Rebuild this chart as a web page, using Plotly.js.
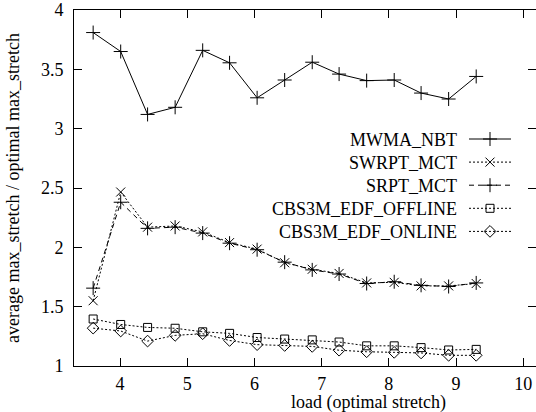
<!DOCTYPE html>
<html>
<head>
<meta charset="utf-8">
<script src="https://cdn.plot.ly/plotly-3.0.1.min.js"></script>
<style>html,body{margin:0;padding:0;background:#fff;}#chart{width:536px;height:412px;}</style>
</head>
<body>
<div id="chart"></div>
<script>
// ---- data ----
const load = [3.60, 4.01, 4.41, 4.82, 5.23, 5.63, 6.04, 6.45, 6.86, 7.26, 7.67, 8.08, 8.48, 8.89, 9.30];
const mwmaNbt = [3.81, 3.65, 3.12, 3.18, 3.66, 3.555, 3.26, 3.41, 3.56, 3.46, 3.405, 3.41, 3.30, 3.25, 3.44];
const swrptMct = [1.55, 2.466, 2.17, 2.18, 2.13, 2.04, 1.985, 1.87, 1.815, 1.78, 1.70, 1.705, 1.675, 1.675, 1.695];
const srptMct = [1.656, 2.38, 2.16, 2.17, 2.12, 2.035, 1.98, 1.875, 1.81, 1.775, 1.695, 1.71, 1.68, 1.67, 1.70];
const edfOffline = [1.396, 1.35, 1.325, 1.318, 1.288, 1.275, 1.24, 1.227, 1.22, 1.202, 1.17, 1.17, 1.155, 1.135, 1.14];
const edfOnline = [1.319, 1.295, 1.21, 1.258, 1.272, 1.215, 1.18, 1.173, 1.165, 1.133, 1.12, 1.115, 1.11, 1.09, 1.09];
const seriesNames = ["MWMA_NBT", "SWRPT_MCT", "SRPT_MCT", "CBS3M_EDF_OFFLINE", "CBS3M_EDF_ONLINE"];
const xTicks = [4, 5, 6, 7, 8, 9, 10];
const yTicks = [1, 1.5, 2, 2.5, 3, 3.5, 4];
const xTitle = "load (optimal stretch)";
const yTitle = "average max_stretch / optimal max_stretch";

// ---- styles ----
const FONT = "'Liberation Serif', 'Times New Roman', Times, serif";
const styles = [
  {dash: "solid", symbol: "cross-thin-open", size: 10},
  {dash: "2px,2px", symbol: "x-thin-open", size: 9},
  {dash: "5px,4px", symbol: "cross-thin-open", size: 10},
  {dash: "2px,2px", symbol: "square-open", size: 8},
  {dash: "2px,2px", symbol: "diamond-open", size: 9}
];
const values = [mwmaNbt, swrptMct, srptMct, edfOffline, edfOnline];

const traces = [];
values.forEach((v, i) => {
  traces.push({
    x: load, y: v, name: seriesNames[i], type: "scatter", mode: "lines+markers",
    line: {color: "#000", width: 1, dash: styles[i].dash},
    marker: {symbol: styles[i].symbol, size: styles[i].size, color: "#000",
             line: {color: "#000", width: 1}},
    showlegend: false, cliponaxis: false
  });
});

// ---- gnuplot-style key (pixel coordinates on hidden overlay axes) ----
const keyY0 = 139, keyStep = 23.1, keyX0 = 469, keyX1 = 511, keyText = 459;
const annotations = [];
seriesNames.forEach((n, i) => {
  const yy = keyY0 + i * keyStep;
  traces.push({
    x: [keyX0, (keyX0 + keyX1) / 2, keyX1], y: [yy, yy, yy],
    xaxis: "x2", yaxis: "y2", type: "scatter", mode: "lines+markers",
    line: {color: "#000", width: 1, dash: styles[i].dash},
    marker: {symbol: styles[i].symbol, size: styles[i].size, color: "#000",
             opacity: [0, 1, 0], line: {color: "#000", width: 1}},
    showlegend: false, hoverinfo: "skip", cliponaxis: false
  });
  annotations.push({
    xref: "x2", yref: "y2", x: keyText, y: yy + 1, xanchor: "right", yanchor: "middle",
    text: n, showarrow: false, font: {family: FONT, size: 18, color: "#000"}
  });
});
// axis titles in paper coordinates (plot area: x 74..536, y 10..366 px)
annotations.push({
  xref: "paper", yref: "paper", x: (368 - 74) / 462, y: (366 - 402) / 356,
  xanchor: "center", yanchor: "middle",
  text: xTitle, showarrow: false, font: {family: FONT, size: 18, color: "#000"}
});
annotations.push({
  xref: "paper", yref: "paper", x: (13 - 74) / 462, y: 0.5,
  xanchor: "center", yanchor: "middle",
  text: yTitle, textangle: -90, showarrow: false, font: {family: FONT, size: 18, color: "#000"}
});

const layout = {
  width: 536, height: 412,
  margin: {l: 74, r: 0, t: 10, b: 46, pad: 0},
  paper_bgcolor: "#fff", plot_bgcolor: "#fff",
  showlegend: false,
  font: {family: FONT, size: 18, color: "#000"},
  xaxis: {
    range: [3.315, 10.19], tickvals: xTicks, ticktext: xTicks.map(String),
    ticks: "inside", ticklen: 8, tickwidth: 1, tickcolor: "#000",
    showline: true, linecolor: "#000", linewidth: 1, mirror: "ticks",
    showgrid: false, zeroline: false, ticklabelstandoff: 1,
    tickfont: {family: FONT, size: 18, color: "#000"}
  },
  yaxis: {
    range: [1, 4], tickvals: yTicks, ticktext: yTicks.map(String),
    ticks: "inside", ticklen: 8, tickwidth: 1, tickcolor: "#000",
    showline: true, linecolor: "#000", linewidth: 1, mirror: "ticks",
    showgrid: false, zeroline: false, ticklabelstandoff: 6,
    tickfont: {family: FONT, size: 18, color: "#000"}
  },
  xaxis2: {overlaying: "x", range: [74, 536], visible: false, fixedrange: true},
  yaxis2: {overlaying: "y", range: [366, 10], visible: false, fixedrange: true},
  annotations: annotations
};

Plotly.newPlot("chart", traces, layout, {staticPlot: true, displayModeBar: false});
</script>
</body>
</html>
